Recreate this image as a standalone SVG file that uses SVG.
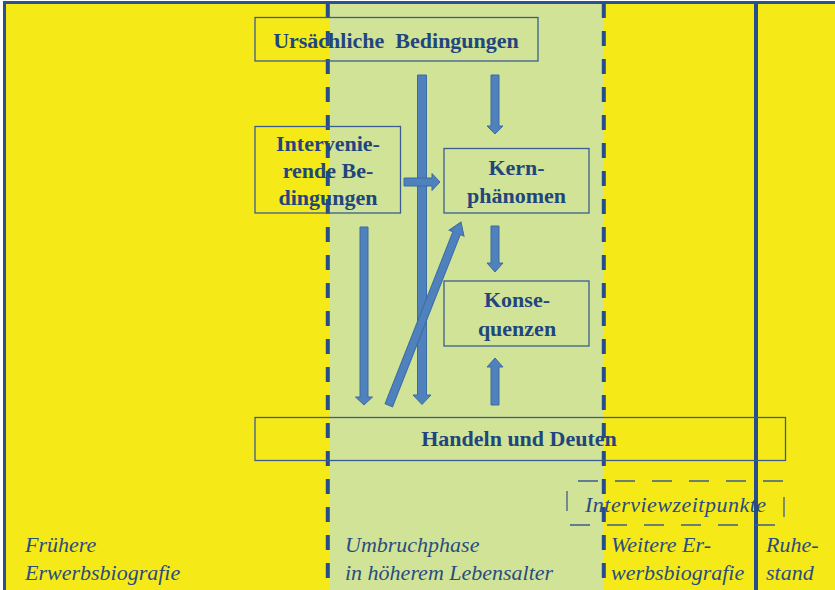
<svg xmlns="http://www.w3.org/2000/svg" width="835" height="590" viewBox="0 0 835 590">
<style>
.box{fill:none;stroke:#3B5C93;stroke-width:1.3}
.bt{font-family:"Liberation Serif",serif;font-weight:bold;font-size:22px;fill:#22457E;text-anchor:middle}
.it{font-family:"Liberation Serif",serif;font-style:italic;font-size:22px;fill:#2A4C82}
.arr{fill:#4F81BD;stroke:#3D6BA6;stroke-width:1}
.vd{stroke:#264D8A;stroke-width:4;stroke-dasharray:15 13;fill:none}
</style>
<rect x="0" y="0" width="835" height="590" fill="#ffffff"/>
<rect x="4.5" y="2.5" width="840" height="600" fill="#F5EA17" stroke="#2B528C" stroke-width="3"/>
<rect x="329" y="4" width="274" height="586" fill="#D1E396"/>
<g id="dividers">
<line class="vd" x1="327.8" y1="3" x2="327.8" y2="590"/>
<line class="vd" x1="603.8" y1="3" x2="603.8" y2="590"/>
<line x1="756" y1="3" x2="756" y2="590" stroke="#264D8A" stroke-width="4"/>
</g>
<g id="ursaechliche">
<rect class="box" x="255" y="17.5" width="283" height="43.5"/>
<text class="bt" x="396" y="48" xml:space="preserve">Ursächliche  Bedingungen</text>
</g>
<g id="intervenierende">
<rect class="box" x="255" y="126.5" width="145.5" height="86.5"/>
<text class="bt" x="328" y="151">Intervenie-</text>
<text class="bt" x="328" y="178">rende Be-</text>
<text class="bt" x="328" y="205">dingungen</text>
</g>
<g id="kernphaenomen">
<rect class="box" x="444" y="148.5" width="145" height="64.5"/>
<text class="bt" x="516.5" y="175">Kern-</text>
<text class="bt" x="516.5" y="203">phänomen</text>
</g>
<g id="konsequenzen">
<rect class="box" x="444" y="281" width="145" height="65"/>
<text class="bt" x="517" y="307">Konse-</text>
<text class="bt" x="517" y="336">quenzen</text>
</g>
<g id="handeln">
<rect class="box" x="255" y="417.5" width="530.5" height="43"/>
<text class="bt" x="519" y="446">Handeln und Deuten</text>
</g>
<g id="interviewzeitpunkte">
<rect x="567" y="481" width="217" height="44" fill="none" stroke="#3B5C93" stroke-width="1.3" stroke-dasharray="20 17" stroke-dashoffset="26"/>
<text class="it" x="585" y="512" font-size="21" textLength="181" lengthAdjust="spacing">Interviewzeitpunkte</text>
</g>
<g id="connectors">
<polygon class="arr" points="417.5,75 426.5,75 426.5,395 431,395 422,404.5 413,395 417.5,395"/>
<polygon class="arr" points="491,75 499,75 499,126 503,126 495,134 487,126 491,126"/>
<polygon class="arr" points="404,178 432,178 432,173.5 440,182 432,190.5 432,186 404,186"/>
<polygon class="arr" points="360,227 368,227 368,397 372.5,397 364,405 355.5,397 360,397"/>
<polygon class="arr" transform="translate(461,222) rotate(21.5)" points="0,0 8,12 4,12 4,197 -4,197 -4,12 -8,12"/>
<polygon class="arr" points="491,226 499,226 499,263 503,263 495,272 487,263 491,263"/>
<polygon class="arr" points="495,358 503,367 499,367 499,405 491,405 491,367 487,367"/>
</g>
<g id="phases">
<text class="it" x="25" y="552">Frühere</text>
<text class="it" x="25" y="580">Erwerbsbiografie</text>
<text class="it" x="345" y="552">Umbruchphase</text>
<text class="it" x="345" y="580">in höherem Lebensalter</text>
<text class="it" x="611" y="552">Weitere Er-</text>
<text class="it" x="611" y="580">werbsbiografie</text>
<text class="it" x="766" y="552">Ruhe-</text>
<text class="it" x="766" y="580">stand</text>
</g>
</svg>
